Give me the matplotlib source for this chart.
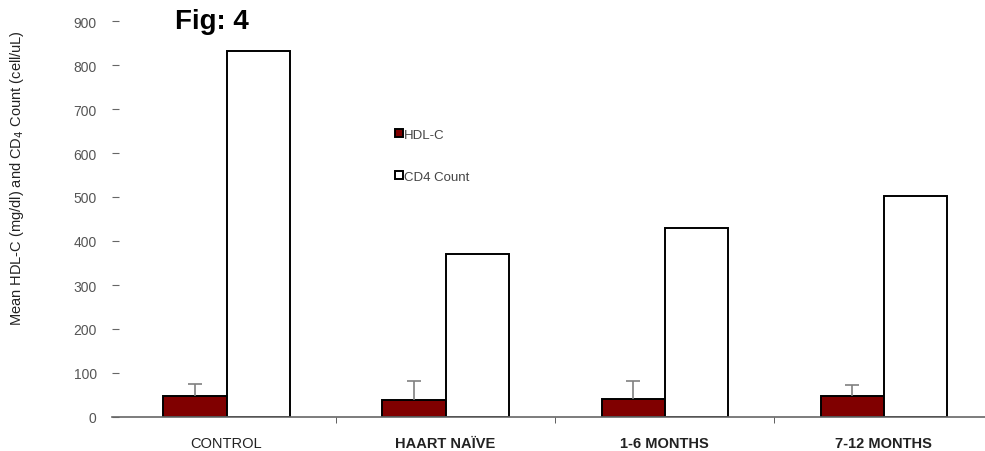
import numpy as np
import matplotlib.pyplot as plt

groups = ["CONTROL", "HAART NAÏVE", "1-6 MONTHS", "7-12 MONTHS"]
hdl = [48, 39, 40, 47]
hdl_err = [27, 43, 41, 26]
cd4 = [832, 370, 430, 502]

plt.rcParams['font.family'] = ['Liberation Sans', 'DejaVu Sans']

fig = plt.figure(figsize=(9.85, 4.52), dpi=100)
ax = fig.add_axes([112 / 985, 34 / 452, 873 / 985, 396 / 452])

x = np.arange(len(groups))
w = 0.288
ax.bar(x - w / 2, hdl, w, color="#800000", edgecolor="black", linewidth=1.4,
       label="HDL-C", zorder=2)
ax.bar(x + w / 2, cd4, w, color="white", edgecolor="black", linewidth=1.4,
       label="CD4 Count", zorder=2)

# upper error bars only
tops = np.array(hdl) + np.array(hdl_err)
ax.vlines(x - w / 2, hdl, tops, color="#808080", linewidth=1.2, zorder=3)
ax.hlines(tops, x - w / 2 - 0.03, x - w / 2 + 0.03, color="#808080",
          linewidth=1.2, zorder=3)

ax.set_xlim(-0.523, 3.463)
ax.set_ylim(0, 900)
ax.set_yticks(range(0, 901, 100))
ax.set_yticklabels(["0"] + [str(v) for v in range(100, 901, 100)],
                   fontsize=10, color="#555555")
ax.tick_params(axis="y", direction="in", length=5, width=0.8, color="#666666", pad=11)

for s in ["top", "right", "left"]:
    ax.spines[s].set_visible(False)
ax.spines["bottom"].set_color("#666666")
ax.spines["bottom"].set_linewidth(1.2)

ax.set_xticks(x)
ax.set_xticklabels(groups, fontsize=10.5, color="#222222")
for lab in ax.get_xticklabels()[1:]:
    lab.set_fontweight("bold")
ax.tick_params(axis="x", length=0, pad=14)
ax.set_xticks(x[:-1] + 0.5, minor=True)
ax.tick_params(axis="x", which="minor", direction="out", length=4, color="#444444")

fig.text(17 / 985, 1 - 178 / 452,
         "Mean HDL-C (mg/dl) and CD$_4$ Count (cell/uL)",
         rotation=90, ha="center", va="center", fontsize=10.5, color="#222222")
fig.text(175 / 985, 1 - 22 / 452, "Fig: 4", fontsize=20, fontweight="bold",
         ha="left", va="center")

ax.legend(loc="upper left", bbox_to_anchor=((383 - 112) / 873, (418 - 118) / 396),
          frameon=False, fontsize=9.5, handlelength=0.6, handleheight=0.6,
          handletextpad=0.1, labelspacing=2.25, labelcolor="#444444")

fig.savefig("out.png", dpi=100)
